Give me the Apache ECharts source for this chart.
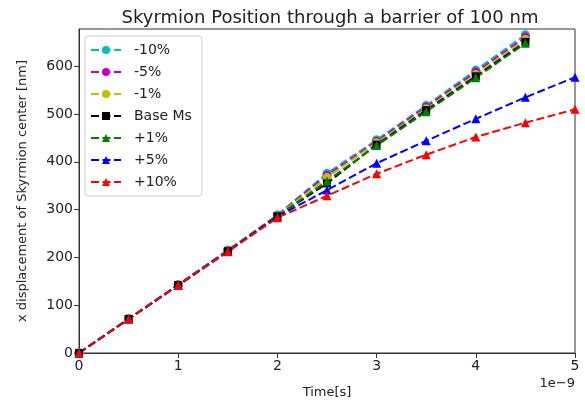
<!DOCTYPE html>
<html lang="en">
<head>
    <meta charset="UTF-8">
    <title>Skyrmion Position</title>
    <script type="text/javascript" src="https://cdn.jsdelivr.net/npm/echarts@6/dist/echarts.min.js"></script>
    <style>
        body { margin: 0; background: #fff; }
    </style>
</head>
<body>
<div id="chart" style="width: 585px;height: 406px"></div>
<script type="text/javascript">
    // time in units of 1e-9 s
    var time = [0, 0.5, 1, 1.5, 2, 2.5, 3, 3.5, 4, 4.5, 5];

    var names = ['-10%', '-5%', '-1%', 'Base Ms', '+1%', '+5%', '+10%'];
    var colors = ['#00bfbf', '#bf00bf', '#bfbf00', '#000000', '#008000', '#0000ff', '#ff0000'];
    var markers = ['circle', 'circle', 'circle', 'rect', 'triangle', 'triangle', 'triangle'];

    var minus10 = [0, 72, 143, 215, 289, 376, 446, 518, 592, 666];
    var minus5 = [0, 72, 143, 215, 288, 372, 443, 515, 588, 661];
    var minus1 = [0, 72, 143, 214, 287, 367, 440, 511, 583, 656];
    var baseMs = [0, 71, 142, 213, 286, 355, 436, 508, 579, 651];
    var plus1 = [0, 71, 142, 213, 286, 360, 434, 505, 576, 648];
    var plus5 = [0, 71, 142, 213, 285, 341, 397, 444, 490, 535, 577];
    var plus10 = [0, 71, 142, 212, 283, 329, 375, 415, 452, 482, 510];

    var values = [minus10, minus5, minus1, baseMs, plus1, plus5, plus10];

    var font = 'DejaVu Sans';
    var chart = echarts.init(document.getElementById('chart'));

    var series = [];
    for (var i = 0; i < names.length; i++) {
        var pts = [];
        for (var j = 0; j < values[i].length; j++) {
            pts.push([time[j], values[i][j]]);
        }
        series.push({
            name: names[i],
            type: 'line',
            data: pts,
            symbol: markers[i],
            symbolSize: markers[i] === 'rect' ? 8 : 9,
            color: colors[i],
            lineStyle: {color: colors[i], width: 2, type: [8, 3.5]},
            itemStyle: {color: colors[i]},
            animation: false
        });
    }

    var option = {
        title: {
            text: 'Skyrmion Position through a barrier of 100 nm',
            left: 325,
            textAlign: 'center',
            top: 4,
            textStyle: {fontFamily: font, fontSize: 18, fontWeight: 'normal', color: '#222'}
        },
        grid: {
            left: 79, right: 10, top: 29, bottom: 53,
            show: true, borderColor: '#333', borderWidth: 1
        },
        legend: {
            orient: 'vertical',
            left: 85,
            top: 36,
            itemWidth: 30,
            itemHeight: 10,
            itemGap: 8,
            padding: [7, 10, 7, 5],
            borderColor: '#ccc',
            borderWidth: 1,
            borderRadius: 3,
            backgroundColor: '#fff',
            textStyle: {fontFamily: font, fontSize: 14, color: '#222', padding: [0, 0, 0, 8]},
            data: names
        },
        xAxis: {
            type: 'value',
            min: 0, max: 5, interval: 1,
            name: 'Time[s]',
            nameLocation: 'middle',
            nameGap: 33,
            nameTextStyle: {fontFamily: font, fontSize: 13, color: '#222'},
            axisLine: {lineStyle: {color: '#333'}},
            axisTick: {length: 5, lineStyle: {color: '#333'}},
            axisLabel: {fontFamily: font, fontSize: 14, color: '#222', margin: 6},
            splitLine: {show: false}
        },
        yAxis: {
            type: 'value',
            min: 0, max: 678, interval: 100,
            name: 'x displacement of Skyrmion center [nm]',
            nameLocation: 'middle',
            nameGap: 50,
            nameTextStyle: {fontFamily: font, fontSize: 13, color: '#222'},
            axisLine: {show: true, lineStyle: {color: '#333'}},
            axisTick: {show: true, length: 5, lineStyle: {color: '#333'}},
            axisLabel: {
                fontFamily: font, fontSize: 14, color: '#222', margin: 6,
                showMaxLabel: false
            },
            splitLine: {show: false}
        },
        graphic: [{
            type: 'text',
            right: 10,
            top: 377,
            style: {text: '1e\u22129', fontFamily: font, fontSize: 13, fill: '#222'}
        }],
        series: series
    };

    option && chart.setOption(option);
</script>
</body>
</html>
